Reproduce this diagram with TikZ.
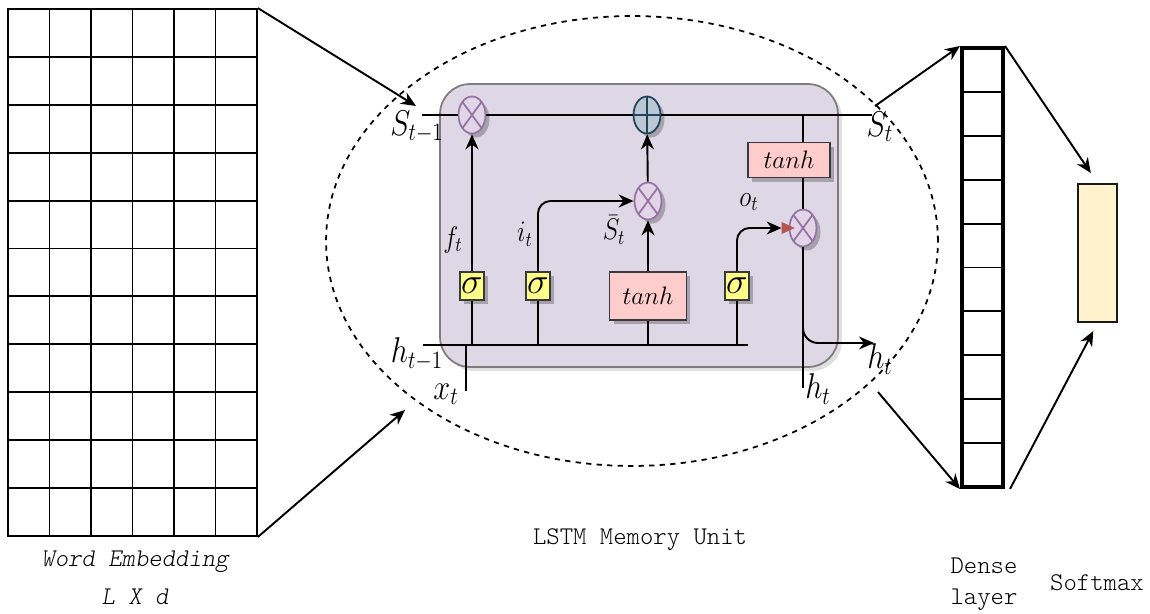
\documentclass[tikz,border=0pt]{standalone}
\usepackage{amsmath,amssymb}
\usepackage{tikz}
\usetikzlibrary{positioning,arrows.meta,shapes.geometric,shadows}
\usepackage{xcolor}

\definecolor{cellfill}{RGB}{222,215,229}
\definecolor{celldraw}{RGB}{125,125,125}
\definecolor{mulfill}{RGB}{225,213,231}
\definecolor{muldraw}{RGB}{150,115,166}
\definecolor{addfill}{RGB}{186,200,211}
\definecolor{adddraw}{RGB}{35,68,93}
\definecolor{tanhfill}{RGB}{255,204,204}
\definecolor{sigfill}{RGB}{255,255,136}
\definecolor{gatedraw}{RGB}{54,57,61}
\definecolor{softfill}{RGB}{255,242,204}
\definecolor{redtip}{RGB}{184,84,80}

\newcommand{\tallmath}[1]{\scalebox{1}[1.18]{$#1$}}

\tikzset{
  gshadow/.style={drop shadow={shadow xshift=0.08cm,shadow yshift=-0.08cm,fill=black,opacity=#1}},
  gshadow/.default=0.25,
  gate/.style={draw=gatedraw,line width=1pt,inner sep=0pt,gshadow},
  sig/.style={gate,fill=sigfill,font=\huge,minimum width=0.48cm,minimum height=0.56cm},
  tanhbox/.style={gate,fill=tanhfill,font=\Large,minimum height=0.7cm},
  mulnode/.style={ellipse,draw=muldraw,fill=mulfill,line width=1pt,minimum width=0.54cm,minimum height=0.74cm,inner sep=0pt,gshadow,
    path picture={\draw[muldraw,line width=1pt] (path picture bounding box.north west) -- (path picture bounding box.south east)
      (path picture bounding box.north east) -- (path picture bounding box.south west);}},
  addnode/.style={ellipse,draw=adddraw,fill=addfill,line width=1pt,minimum width=0.54cm,minimum height=0.74cm,inner sep=0pt,gshadow,
    path picture={\draw[adddraw,line width=1pt] (path picture bounding box.north) -- (path picture bounding box.south)
      (path picture bounding box.west) -- (path picture bounding box.east);}},
  biglabel/.style={font=\LARGE,inner sep=1pt},
  smalllabel/.style={font=\Large,inner sep=1pt},
  mono/.style={font=\fontsize{14.5}{17}\selectfont\ttfamily\fontseries{l}\selectfont},
}

\begin{document}
\begin{tikzpicture}[x=0.02cm,y=-0.02cm,line width=1.1pt,>={Stealth[length=3mm,width=2.6mm]}]
\useasboundingbox (0,0) rectangle (1150,613);

\node[draw,dashed,ellipse,line width=1pt,minimum width=12.24cm,minimum height=9cm,inner sep=0pt] (unit) at (632,241) {};
\node[draw=celldraw,fill=cellfill,line width=1pt,rounded corners=0.6cm,minimum width=7.96cm,minimum height=5.66cm,gshadow=0.12] (cell) at (639,225.5) {};

\node[draw,minimum width=4.98cm,minimum height=10.54cm,inner sep=0pt] (emb) at (132.5,272.5) {};
\foreach \i in {1,...,5} \draw ({8+41.5*\i},9) -- ({8+41.5*\i},536);
\foreach \j in {1,...,10} \draw (8,{9+47.9*\j}) -- (257,{9+47.9*\j});

\node[draw,line width=2.3pt,minimum width=0.82cm,minimum height=8.78cm,inner sep=0pt] (dense) at (982.5,267.5) {};
\foreach \j in {1,...,9} \draw (962,{48+43.9*\j}) -- (1003,{48+43.9*\j});
\node[draw=black!90,fill=softfill,line width=1.2pt,minimum width=0.78cm,minimum height=2.76cm,inner sep=0pt] (soft) at (1097.5,253) {};

\node[mulnode] (m1) at (472,115) {};
\node[addnode] (a1) at (647,115) {};
\node[mulnode] (m2) at (648,201) {};
\node[mulnode] (m3) at (803,228) {};
\node[sig] (s1) at (472,286) {$\sigma$};
\node[sig] (s2) at (538,286) {$\sigma$};
\node[tanhbox,minimum width=1.54cm,minimum height=0.96cm] (t2) at (648,296) {$tanh$};
\node[sig] (s3) at (737,286) {$\sigma$};
\node[tanhbox,minimum width=1.64cm] (t1) at (789,160) {$tanh$};

\node[biglabel] (st1) at (417,127) {\tallmath{S_{t-1}}};
\node[biglabel] (ht1) at (417,354) {\tallmath{h_{t-1}}};
\node[biglabel] (xt) at (446,394) {\tallmath{x_t}};
\node[biglabel] (st) at (880,127) {\tallmath{S_t}};
\node[biglabel] (ht) at (880,359) {\tallmath{h_t}};
\node[biglabel] (ht2) at (818,389) {\tallmath{h_t}};
\node[smalllabel] (ft) at (453,240) {\tallmath{f_t}};
\node[smalllabel] (it) at (525,234) {\tallmath{i_t}};
\node[smalllabel] (sbt) at (614,230) {\tallmath{\bar{S}_t}};
\node[smalllabel] (ot) at (749,202) {\tallmath{o_t}};

\coordinate (c0) at (422,115);
\coordinate (c1) at (872,115);
\coordinate (c2) at (803,115);
\coordinate (hl) at (423,345);
\coordinate (hr) at (748,345);
\coordinate (xb) at (466,391);
\coordinate (hb) at (803,388);
\coordinate (ho) at (874,343);
\coordinate (e1) at (416,106);
\coordinate (e2) at (405,410);
\coordinate (d1) at (875,106);
\coordinate (d2) at (878,392);

\draw (c0) -- (m1);
\draw (m1) -- (a1);
\draw (a1) -- (c1);
\draw (c2) -- (c2 |- t1.north);
\draw (c2 |- t1.south) -- (m3);
\draw (m3) -- (hb);
\draw[->,rounded corners=0.3cm] (m3.south) -- (m3.south |- ho) -- (ho);
\draw (hl) -- (hr);
\draw (xb) -- (xb |- hl);
\draw (s1) -- (s1 |- hl);
\draw[->] (s1) -- (m1);
\draw (s2) -- (s2 |- hl);
\draw[->,rounded corners=0.25cm] (s2) -- (s2 |- m2) -- (m2);
\draw (t2) -- (t2 |- hl);
\draw[->] (t2) -- (m2);
\draw[->] (m2) -- (a1);
\draw (s3) -- (s3 |- hl);
\draw[->,rounded corners=0.25cm] (s3) -- (s3 |- m3) -- ([xshift=-0.14cm]m3.west);
\fill[redtip] ([xshift=-0.14cm,yshift=0.12cm]m3.west) -- ([xshift=0.12cm]m3.west) -- ([xshift=-0.14cm,yshift=-0.12cm]m3.west) -- cycle;

\draw[->] (emb.north east) -- (e1);
\draw[->] (emb.south east) -- (e2);
\draw[->] (d1) -- (dense.north west);
\draw[->] (d2) -- (dense.south west);
\draw[->,shorten >=0.24cm] (dense.north east) -- (soft.north);
\draw[->,shorten >=0.18cm] ([xshift=0.1cm]dense.south east) -- (soft.south);

\node[mono] (embt) at (135,562) {\itshape Word Embedding};
\node[mono] (dim) at (135,597) {\itshape L X d};
\node[mono] (lstm) at (640,540) {LSTM Memory Unit};
\node[mono] (dn) at (984,566) {Dense};
\node[mono] (ly) at (984,600) {layer};
\node[mono] (sm) at (1097,583) {Softmax};
\end{tikzpicture}
\end{document}
